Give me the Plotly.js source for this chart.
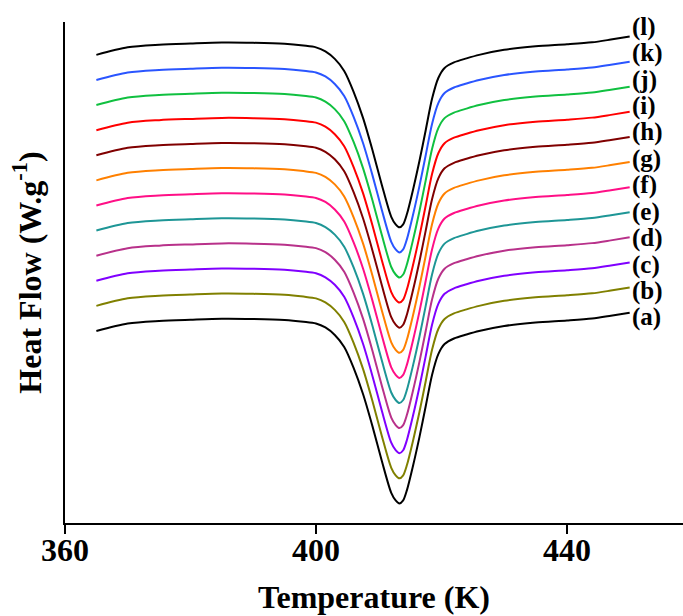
<!DOCTYPE html>
<html>
<head>
<meta charset="utf-8">
<script src="https://cdn.plot.ly/plotly-3.0.1.min.js"></script>
<style>
  html, body { margin: 0; padding: 0; background: #ffffff; }
  #chart { width: 683px; height: 616px; }
</style>
</head>
<body>
<div id="chart"></div>
<script>
// Temperature (K) sampling points shared by all curves
const temperature = [365,370,375,380,385,390,395,398,400,401.5,403,404.5,406,407.5,409,410.5,412,412.7,413.3,413.9,414.5,415.5,416.5,417.5,418.5,419.5,420.5,422,424,426,430,435,440,444,447,450];

// Heat flow (arbitrary units, curves stacked)
const heatA = [7.65,7.95,8.05,8.10,8.14,8.13,8.09,8.02,7.95,7.79,7.49,7.01,6.18,5.14,3.86,2.47,1.20,0.90,0.78,0.90,1.31,2.31,3.43,4.66,5.90,6.73,7.13,7.35,7.51,7.65,7.85,7.99,8.07,8.15,8.26,8.38];
const heatB = [8.65,8.95,9.05,9.10,9.14,9.13,9.09,9.02,8.95,8.79,8.49,8.01,7.18,6.14,4.86,3.47,2.20,1.90,1.78,1.90,2.31,3.31,4.43,5.66,6.90,7.73,8.13,8.35,8.51,8.65,8.85,8.99,9.07,9.15,9.26,9.38];
const heatC = [9.65,9.95,10.05,10.10,10.14,10.13,10.09,10.02,9.95,9.79,9.49,9.01,8.18,7.14,5.86,4.47,3.20,2.90,2.78,2.90,3.31,4.31,5.43,6.66,7.90,8.73,9.13,9.35,9.51,9.65,9.85,9.99,10.07,10.15,10.26,10.38];
const heatD = [10.65,10.95,11.05,11.10,11.14,11.13,11.09,11.02,10.95,10.79,10.49,10.01,9.18,8.14,6.86,5.47,4.20,3.90,3.78,3.90,4.31,5.31,6.43,7.66,8.90,9.73,10.13,10.35,10.51,10.65,10.85,10.99,11.07,11.15,11.26,11.38];
const heatE = [11.65,11.95,12.05,12.10,12.14,12.13,12.09,12.02,11.95,11.79,11.49,11.01,10.18,9.14,7.86,6.47,5.20,4.90,4.78,4.90,5.31,6.31,7.43,8.66,9.90,10.73,11.13,11.35,11.51,11.65,11.85,11.99,12.07,12.15,12.26,12.38];
const heatF = [12.65,12.95,13.05,13.10,13.14,13.13,13.09,13.02,12.95,12.79,12.49,12.01,11.18,10.14,8.86,7.47,6.20,5.90,5.78,5.90,6.31,7.31,8.43,9.66,10.90,11.73,12.13,12.35,12.51,12.65,12.85,12.99,13.07,13.15,13.26,13.38];
const heatG = [13.65,13.95,14.05,14.10,14.14,14.13,14.09,14.02,13.95,13.79,13.49,13.01,12.18,11.14,9.86,8.47,7.20,6.90,6.78,6.90,7.31,8.31,9.43,10.66,11.90,12.73,13.13,13.35,13.51,13.65,13.85,13.99,14.07,14.15,14.26,14.38];
const heatH = [14.65,14.95,15.05,15.10,15.14,15.13,15.09,15.02,14.95,14.79,14.49,14.01,13.18,12.14,10.86,9.47,8.20,7.90,7.78,7.90,8.31,9.31,10.43,11.66,12.90,13.73,14.13,14.35,14.51,14.65,14.85,14.99,15.07,15.15,15.26,15.38];
const heatI = [15.65,15.95,16.05,16.10,16.14,16.13,16.09,16.02,15.95,15.79,15.49,15.01,14.18,13.14,11.86,10.47,9.20,8.90,8.78,8.90,9.31,10.31,11.43,12.66,13.90,14.73,15.13,15.35,15.51,15.65,15.85,15.99,16.07,16.15,16.26,16.38];
const heatJ = [16.65,16.95,17.05,17.10,17.14,17.13,17.09,17.02,16.95,16.79,16.49,16.01,15.18,14.14,12.86,11.47,10.20,9.90,9.78,9.90,10.31,11.31,12.43,13.66,14.90,15.73,16.13,16.35,16.51,16.65,16.85,16.99,17.07,17.15,17.26,17.38];
const heatK = [17.65,17.95,18.05,18.10,18.14,18.13,18.09,18.02,17.95,17.79,17.49,17.01,16.18,15.14,13.86,12.47,11.20,10.90,10.78,10.90,11.31,12.31,13.43,14.66,15.90,16.73,17.13,17.35,17.51,17.65,17.85,17.99,18.07,18.15,18.26,18.38];
const heatL = [18.65,18.95,19.05,19.10,19.14,19.13,19.09,19.02,18.95,18.79,18.49,18.01,17.18,16.14,14.86,13.47,12.20,11.90,11.78,11.90,12.31,13.31,14.43,15.66,16.90,17.73,18.13,18.35,18.51,18.65,18.85,18.99,19.07,19.15,19.26,19.38];

const curveLabels = ["(a)","(b)","(c)","(d)","(e)","(f)","(g)","(h)","(i)","(j)","(k)","(l)"];
const xTickValues = [360, 400, 440];

// styles
const curveColors = ["#000000","#808000","#8000ff","#b8318a","#1e9696","#ff0f86","#ff8000","#800000","#ff0000","#10c040","#2a55ff","#000000"];
const seriesList = [heatA,heatB,heatC,heatD,heatE,heatF,heatG,heatH,heatI,heatJ,heatK,heatL];

const FONT = "'Liberation Serif', 'Times New Roman', serif";

const traces = seriesList.map((ys, i) => ({
  type: "scatter",
  mode: "lines",
  x: temperature,
  y: ys,
  name: curveLabels[i],
  line: { color: curveColors[i], width: 2, shape: "spline", smoothing: 0.8 },
  hoverinfo: "skip"
}));

const lastIdx = temperature.length - 1;
const annotations = seriesList.map((ys, i) => ({
  x: temperature[lastIdx],
  y: ys[lastIdx],
  xref: "x", yref: "y",
  text: curveLabels[i],
  showarrow: false,
  xanchor: "left",
  yanchor: "middle",
  xshift: 0,
  yshift: -4.7 + 1.31 * i,
  font: { family: FONT, size: 25, color: "#000000", weight: "bold" }
}));

const layout = {
  width: 683,
  height: 616,
  margin: { l: 65, r: 0, t: 22, b: 93, pad: 0 },
  paper_bgcolor: "#ffffff",
  plot_bgcolor: "#ffffff",
  showlegend: false,
  xaxis: {
    range: [360, 458.5],
    tickvals: xTickValues,
    ticktext: xTickValues.map(String),
    ticks: "outside",
    ticklen: 9,
    tickwidth: 2,
    tickcolor: "#000000",
    ticklabelstandoff: -11,
    showline: true,
    linewidth: 2,
    linecolor: "#000000",
    showgrid: false,
    zeroline: false,
    tickfont: { family: FONT, size: 32, color: "#000000", weight: "bold" },
    title: { text: "Temperature (K)", font: { family: FONT, size: 32, color: "#000000", weight: "bold" }, standoff: 18 }
  },
  yaxis: {
    range: [0, 19.96],
    showline: true,
    linewidth: 2,
    linecolor: "#000000",
    ticks: "",
    showticklabels: false,
    showgrid: false,
    zeroline: false,
    title: { text: "Heat Flow (W.g<sup>-1</sup>)", font: { family: FONT, size: 32, color: "#000000", weight: "bold" }, standoff: 12 }
  },
  annotations: annotations
};

Plotly.newPlot("chart", traces, layout, { staticPlot: true, displayModeBar: false });
</script>
</body>
</html>
